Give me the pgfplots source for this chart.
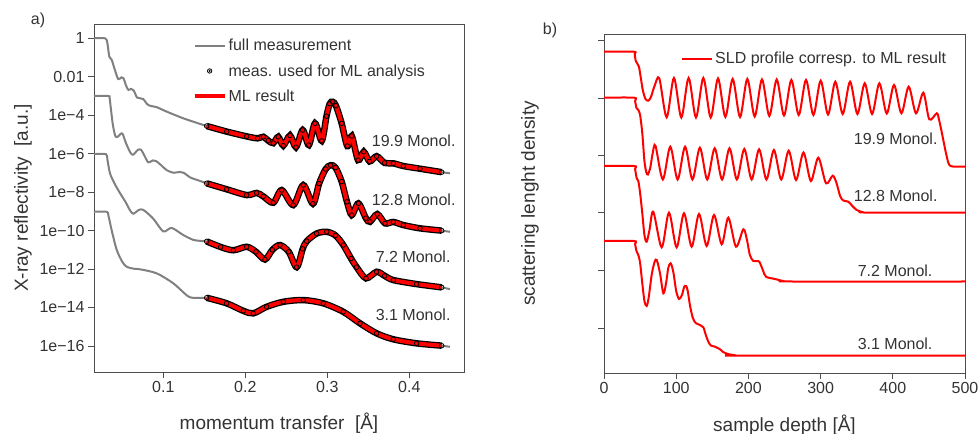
\documentclass[border=0pt]{standalone}
\usepackage{pgfplots}
\pgfplotsset{compat=1.18}
\usepackage{pgfplotstable}
\usepackage{fontspec}
\setmainfont{Liberation Sans}
\definecolor{tg}{RGB}{51,51,51}
\definecolor{ax}{RGB}{77,77,77}
\definecolor{gc}{RGB}{128,128,128}
\newcommand\fs{\fontsize{16bp}{19bp}\selectfont}
\newcommand\fl{\fontsize{19bp}{23bp}\selectfont}

\pgfplotstableread{
q l
0.0155 0
0.0290 0
0.0318 -0.25
0.0342 -0.96
0.0371 -1.12
0.0410 -1.65
0.0451 -2.12
0.0490 -2.03
0.0515 -2.08
0.0548 -2.48
0.0575 -2.68
0.0610 -2.63
0.0640 -2.72
0.0680 -3.08
0.0720 -3.12
0.0756 -3.16
0.0817 -3.47
0.0919 -3.58
0.1040 -3.81
0.1244 -4.16
0.1448 -4.45
0.1529 -4.56
}\LAg
\pgfplotstableread{
q l
0.0155 -3.0
0.0330 -3.0
0.0345 -3.1
0.0362 -3.7
0.0385 -4.5
0.0415 -5.08
0.0445 -5.12
0.0480 -4.97
0.0505 -4.98
0.0545 -5.45
0.0600 -5.95
0.0634 -6.05
0.0690 -5.80
0.0730 -5.80
0.0770 -6.10
0.0817 -6.45
0.0870 -6.35
0.0910 -6.38
0.0980 -6.62
0.1040 -6.85
0.1122 -6.99
0.1200 -6.95
0.1260 -7.02
0.1326 -7.23
0.1450 -7.42
0.1529 -7.54
}\LBg
\pgfplotstableread{
q l
0.0155 -6.02
0.0300 -6.02
0.0318 -6.30
0.0350 -7.02
0.0400 -7.50
0.0451 -7.90
0.0545 -8.55
0.0595 -8.95
0.0634 -9.12
0.0700 -8.93
0.0756 -8.92
0.0878 -9.38
0.1000 -10.04
0.1102 -9.86
0.1244 -10.23
0.1366 -10.48
0.1450 -10.53
0.1529 -10.56
}\LCg
\pgfplotstableread{
q l
0.0155 -9.02
0.0310 -9.02
0.0330 -9.20
0.0370 -9.97
0.0432 -11.0
0.0500 -11.62
0.0554 -11.88
0.0640 -11.98
0.0716 -12.01
0.0919 -12.22
0.1122 -12.74
0.1305 -13.42
0.1407 -13.49
0.1529 -13.49
}\LDg
\pgfplotstableread{
q l
0.1529 -4.56
0.1773 -4.85
0.2017 -5.10
0.2150 -5.20
0.2220 -5.12
0.2280 -5.32
0.2341 -5.45
0.2402 -5.12
0.2463 -5.58
0.2545 -5.05
0.2618 -5.66
0.2700 -4.77
0.2775 -5.55
0.2850 -4.42
0.2932 -5.33
0.2990 -4.05
0.3030 -3.40
0.3065 -3.30
0.3105 -3.50
0.3175 -4.42
0.3244 -5.60
0.3298 -5.08
0.3375 -6.33
0.3445 -5.90
0.3515 -6.40
0.3602 -6.13
0.3700 -6.48
0.3805 -6.50
0.3927 -6.64
0.4130 -6.78
0.4395 -6.96
}\LAm
\pgfplotstableread{
q l
0.1529 -7.54
0.1773 -7.85
0.2017 -8.15
0.2139 -8.04
0.2220 -8.22
0.2341 -8.55
0.2444 -7.89
0.2585 -8.67
0.2707 -7.63
0.2825 -8.60
0.2900 -7.55
0.2980 -6.80
0.3040 -6.60
0.3100 -6.72
0.3175 -7.45
0.3240 -8.50
0.3298 -9.19
0.3379 -8.58
0.3470 -9.35
0.3520 -9.54
0.3610 -9.14
0.3704 -9.62
0.3805 -9.55
0.3927 -9.71
0.4130 -9.88
0.4395 -10.00
}\LBm
\pgfplotstableread{
q l
0.1529 -10.56
0.1700 -10.85
0.1854 -11.02
0.2017 -10.84
0.2130 -11.10
0.2240 -11.50
0.2330 -11.00
0.2423 -10.75
0.2530 -11.10
0.2627 -11.90
0.2700 -10.95
0.2749 -10.55
0.2870 -10.15
0.2993 -10.06
0.3100 -10.25
0.3195 -10.75
0.3290 -11.45
0.3358 -11.90
0.3472 -12.48
0.3602 -12.14
0.3700 -12.35
0.3805 -12.57
0.4090 -12.78
0.4395 -12.95
}\LCm
\pgfplotstableread{
q l
0.1529 -13.49
0.1773 -13.78
0.1976 -14.17
0.2098 -14.30
0.2261 -13.96
0.2463 -13.70
0.2707 -13.61
0.2951 -13.78
0.3195 -14.22
0.3399 -14.82
0.3602 -15.34
0.3805 -15.65
0.4090 -15.86
0.4395 -15.98
}\LDm

\pgfplotstableread{
d s
0 321.3
41 321.3
42.5 319
44 312
46.5 309
48.5 306
51 295
54 282
57.5 274
61.4 272.3
65 276
70 287
76.6 294.7
86.8 255.7
96.9 295
107.1 255.5
117.2 295
127.4 255.5
137.6 295
147.8 255.5
157.9 294.5
168.1 256
178.2 294
188.4 256
198.5 294
208.7 256.5
218.8 293.5
229.0 257
239.2 293.5
249.3 257.5
259.5 293
269.7 258
279.8 293
290.0 258
300.1 292.3
310.3 258.5
320.4 291.3
330.6 259
340.8 291.3
351.0 259
361.1 289.7
371.3 259
381.4 289.7
391.6 259.5
401.7 288
411.9 259.7
422.0 286.3
432.1 259.7
442.3 280.3
450.5 253.7
460.8 259.7
463.5 255
468 240
473 222
477 210
480 207
484 206.3
500 206.3
}\RA
\pgfplotstableread{
d s
0 275.3
41.5 275.3
43 272
45 265
47.5 263
50 258
53 240
56 212
58.5 201
60.8 198.5
64 205
67.5 220
71.3 227.3
81.5 193.5
91.8 226.3
102.0 193.5
112.3 226.3
122.5 193.5
132.8 225.3
143.0 193.5
153.3 224.7
163.5 193.5
173.8 224.7
184.0 193.5
194.3 224
204.5 193.5
214.8 223.7
225.0 193.5
235.3 223
245.5 193.5
255.8 222.3
266.0 193
276.3 220.5
286.5 192
296.8 215.3
307.5 189.7
316.7 197.3
322 190
327 177
331.5 172.5
338.4 171.3
344 167
350 163
358 161
370 160.4
500 160.4
}\RB
\pgfplotstableread{
d s
0 207
41.5 207
43 204
45.2 195
47.5 192
50 180
53 160
56 138
59.1 131.3
63 143
68.3 161.3
79.9 125.7
90.0 160.3
100.6 125.7
110.8 159.7
121.4 126.3
131.6 159
142.2 127
152.4 158
163.0 128.7
172.2 155.3
182.8 126.3
193.0 143.7
198 133
202 118
206.8 112
211 111.8
215.1 111.3
220 103
224.4 96.3
236.8 94
248.4 92
260 91.5
500 91.5
}\RC
\pgfplotstableread{
d s
0 132
41.5 132
43 129
45 122
47.5 118
50 110
53 90
56 72
59.1 67
62 76
66 98
70 111
73 113
77.5 100
82.2 79.7
86 90
89 105
92.3 109.7
96 101
100 82
103.9 74
108 78
111 86
113.6 87
116 82
119 68
122.8 55.5
127 50
133 48
137.6 45.7
141 38
144.5 31.3
148 27.5
153.7 26.3
160.7 23.7
165 21
170 19.3
179 18
190 17.3
500 17.3
}\RD

\begin{document}
\begin{tikzpicture}
\path[use as bounding box] (0,0) rectangle (979bp,434bp);
\begin{axis}[
  at={(94bp,62bp)}, anchor=south west, scale only axis,
  width=370bp, height=348bp,
  xmin=0.0155, xmax=0.4667, ymin=-17.35, ymax=0.744,
  xtick={0.1,0.2,0.3,0.4}, xticklabels={0.1,0.2,0.3,0.4},
  ytick={-16,-14,-12,-10,-8,-6,-4,-2,0},
  yticklabels={1e−16,1e−14,1e−12,1e−10,1e−8,1e−6,1e−4,0.01,1},
  tick align=outside, xtick pos=left, ytick pos=left,
  major tick length=6bp,
  tick style={ax, line width=0.8bp},
  axis line style={ax, line width=0.8bp},
  ticklabel style={font=\fs, text=tg},
  /pgf/number format/assume math mode=true,
  xlabel={momentum transfer\ \ [Å]},
  ylabel={X-ray reflectivity\ \ [a.u.]},
  label style={font=\fl, text=tg},
  x label style={at={(axis description cs:0.5,-0.147)}, anchor=center},
  y label style={at={(axis description cs:-0.192,0.5)}, anchor=center},
  legend style={at={(axis description cs:0.258,0.968)}, anchor=north west,
    draw=none, fill=none, font=\fs, text=tg, row sep=8bp,
    nodes={inner sep=2bp}},
  legend cell align=left,
  legend image code/.code={\draw[mark repeat=2,mark phase=2,#1] plot coordinates {(0bp,0bp) (15bp,0bp) (30bp,0bp)};},
]
\addplot[gc, line width=2bp, smooth] table[x=q,y=l] {\LAg};
\addlegendentry{full measurement}
\addplot[gc, line width=2bp, smooth, forget plot] table[x=q,y=l] {\LBg};
\addplot[gc, line width=2bp, smooth, forget plot] table[x=q,y=l] {\LCg};
\addplot[gc, line width=2bp, smooth, forget plot] table[x=q,y=l] {\LDg};
\addplot[gc, line width=2bp, forget plot] coordinates {(0.4395,-6.96) (0.4496,-7.02)};
\addplot[gc, line width=2bp, forget plot] coordinates {(0.4395,-10.00) (0.4496,-10.06)};
\addplot[gc, line width=2bp, forget plot] coordinates {(0.4395,-12.95) (0.4496,-13.04)};
\addplot[gc, line width=2bp, forget plot] coordinates {(0.4395,-15.98) (0.4496,-16.04)};
\addplot[black, line width=6.5bp, smooth, forget plot] table[x=q,y=l] {\LAm};
\addplot[black, line width=6.5bp, smooth, forget plot] table[x=q,y=l] {\LBm};
\addplot[black, line width=6.5bp, smooth, forget plot] table[x=q,y=l] {\LCm};
\addplot[black, line width=6.5bp, smooth, forget plot] table[x=q,y=l] {\LDm};
\addplot[black, only marks, mark=o, mark size=2.3bp, mark options={line width=0.8bp},
  legend image code/.code={\draw[black,line width=0.8bp] (15bp,0bp) circle (2.2bp); \fill[black] (15bp,0bp) circle (0.8bp);}]
  table[x=q,y=l] {\LAm};
\addlegendentry{meas. used for ML analysis}
\addplot[black, only marks, mark=o, mark size=2.3bp, mark options={line width=0.8bp}, forget plot] table[x=q,y=l] {\LBm};
\addplot[black, only marks, mark=o, mark size=2.3bp, mark options={line width=0.8bp}, forget plot] table[x=q,y=l] {\LCm};
\addplot[black, only marks, mark=o, mark size=2.3bp, mark options={line width=0.8bp}, forget plot] table[x=q,y=l] {\LDm};
\addplot[red, line width=4bp, smooth] table[x=q,y=l] {\LAm};
\addlegendentry{ML result}
\addplot[red, line width=4bp, smooth, forget plot] table[x=q,y=l] {\LBm};
\addplot[red, line width=4bp, smooth, forget plot] table[x=q,y=l] {\LCm};
\addplot[red, line width=4bp, smooth, forget plot] table[x=q,y=l] {\LDm};
\node[anchor=east, font=\fs, text=tg] at (axis cs:0.4606,-5.34) {19.9 Monol.};
\node[anchor=east, font=\fs, text=tg] at (axis cs:0.4606,-8.41) {12.8 Monol.};
\node[anchor=east, font=\fs, text=tg] at (axis cs:0.4545,-11.36) {7.2 Monol.};
\node[anchor=east, font=\fs, text=tg] at (axis cs:0.4545,-14.39) {3.1 Monol.};
\end{axis}

\begin{axis}[
  at={(604bp,61bp)}, anchor=south west, scale only axis,
  width=361bp, height=339bp,
  xmin=0, xmax=500, ymin=0, ymax=339,
  xtick={0,100,200,300,400,500},
  ytick={45,103,161,218,275,333}, yticklabels={},
  tick align=outside, xtick pos=left, ytick pos=left,
  major tick length=6bp,
  tick style={ax, line width=0.8bp},
  axis line style={ax, line width=0.8bp},
  ticklabel style={font=\fs, text=tg},
  /pgf/number format/assume math mode=true,
  xlabel={sample depth [Å]},
  ylabel={scattering lenght density},
  label style={font=\fl, text=tg},
  x label style={at={(axis description cs:0.5,-0.153)}, anchor=center},
  y label style={at={(axis description cs:-0.205,0.5)}, anchor=center},
  legend style={at={(axis description cs:0.205,0.959)}, anchor=north west,
    draw=none, fill=none, font=\fs, text=tg, nodes={inner sep=2bp}},
  legend image code/.code={\draw[#1] (0bp,0bp) -- (30bp,0bp);},
]
\addplot[red, line width=2bp, smooth, tension=0.5] table[x=d,y=s] {\RA};
\addlegendentry{SLD profile corresp. to ML result}
\addplot[red, line width=2bp, smooth, tension=0.5, forget plot] table[x=d,y=s] {\RB};
\addplot[red, line width=2bp, smooth, tension=0.5, forget plot] table[x=d,y=s] {\RC};
\addplot[red, line width=2bp, smooth, tension=0.5, forget plot] table[x=d,y=s] {\RD};
\node[anchor=east, font=\fs, text=tg] at (axis cs:466.8,234.7) {19.9 Monol.};
\node[anchor=east, font=\fs, text=tg] at (axis cs:466.8,177) {12.8 Monol.};
\node[anchor=east, font=\fs, text=tg] at (axis cs:459.8,102) {7.2 Monol.};
\node[anchor=east, font=\fs, text=tg] at (axis cs:459.8,29.7) {3.1 Monol.};
\end{axis}
\node[font=\fs, text=tg] at (38bp,414bp) {a)};
\node[font=\fs, text=tg] at (550bp,404bp) {b)};
\end{tikzpicture}
\end{document}
